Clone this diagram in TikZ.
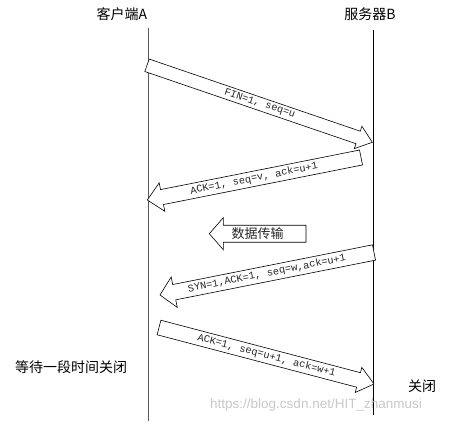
\documentclass[tikz,border=0pt]{standalone}
\usepackage{fontspec}
\usepackage{tikz}
\usetikzlibrary{calc,positioning}
\newfontfamily\cjk{Noto Sans CJK SC}
\newfontfamily\msgfont{Liberation Mono}
\newfontfamily\markfont{Liberation Sans}
\definecolor{lifegray}{RGB}{90,90,90}
\definecolor{markgray}{RGB}{200,200,200}
\tikzset{
  hdr/.style={font=\cjk\fontsize{14}{16}\selectfont,inner sep=0pt},
  lifeline/.style={line width=0.8pt},
  blockarr/.style={draw,fill=white,line width=0.6pt,line join=miter},
  msglabel/.style={font=\msgfont\fontsize{10.3}{12}\selectfont,inner sep=0pt,text=black!85}
}
% block arrow: from, to, half shaft, half head, head length, label
\newcommand{\blockarrow}[6]{%
  \coordinate (ba-base) at ($(#2)!#5pt!(#1)$);
  \draw[blockarr] ($(#1)!#3pt!90:(#2)$) -- ($(ba-base)!#3pt!90:(#2)$)
    -- ($(ba-base)!#4pt!90:(#2)$) -- (#2) -- ($(ba-base)!#4pt!-90:(#2)$)
    -- ($(ba-base)!#3pt!-90:(#2)$) -- ($(#1)!#3pt!-90:(#2)$) -- cycle;
  \path (#1) -- node[msglabel,sloped] {#6} (#2);
}

\begin{document}
\begin{tikzpicture}[x=1pt,y=-1pt]
    \useasboundingbox (0,0) rectangle (449,423);

    % Titles and lifelines
    \node[hdr] (clientA) at (122,14) {客户端A};
    \node[hdr] (serverB) at (370,14) {服务器B};
    \coordinate (aTop) at (148,28);
    \coordinate (aBot) at (148,421);
    \coordinate (bTop) at (373,30);
    \coordinate (bBot) at (373,415);
    \draw[lifeline,lifegray] (aTop) -- (aBot);
    \draw[lifeline] (bTop) -- (bBot);

    % Message end points
    \coordinate (fin-a) at (147,65.3);
    \coordinate (fin-b) at (372.3,142.3);
    \coordinate (ack-b) at (361,157.5);
    \coordinate (ack-a) at (147.3,200);
    \coordinate (data-b) at (306,233.7);
    \coordinate (data-a) at (209.3,233.7);
    \coordinate (syn-b) at (374,252.5);
    \coordinate (syn-a) at (160,295);
    \coordinate (last-a) at (159,327.5);
    \coordinate (last-b) at (374,384);

    % Messages
    \blockarrow{fin-a}{fin-b}{6.6}{11.8}{15}{FIN=1, seq=u}
    \blockarrow{ack-b}{ack-a}{7.6}{14.5}{15}{ACK=1, seq=v, ack=u+1}
    \blockarrow{data-b}{data-a}{8.5}{16}{14}{\cjk\fontsize{13}{14}\selectfont 数据传输}
    \blockarrow{syn-b}{syn-a}{7.8}{15.5}{14.5}{SYN=1,ACK=1, seq=w,ack=u+1}
    \blockarrow{last-a}{last-b}{7.5}{13}{16}{ACK=1, seq=u+1, ack=w+1}

    % Side notes
    \node[hdr] (waitA) at (71,367) {等待一段时间关闭};
    \node[hdr] (closeB) at (422,386) {关闭};
    \node[font=\markfont\fontsize{13.5}{15}\selectfont,text=markgray,inner sep=0pt] (mark) at (316,405) {https://blog.csdn.net/HIT\_zhanmusi};
\end{tikzpicture}
\end{document}
